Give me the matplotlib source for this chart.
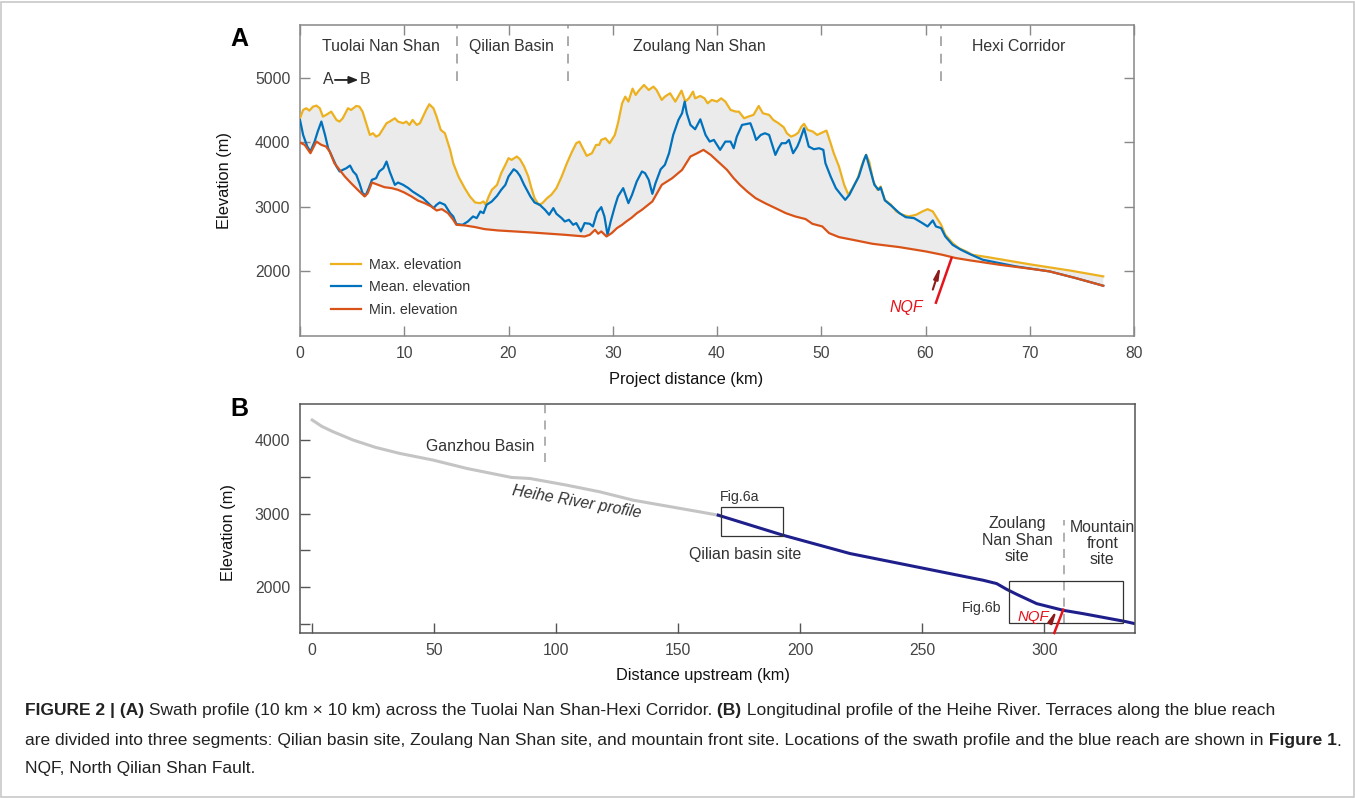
import numpy as np
import matplotlib
matplotlib.use("Agg")
import matplotlib.pyplot as plt
from matplotlib.patches import Rectangle

plt.rcParams['font.family'] = ['Liberation Sans', 'DejaVu Sans']

# ---- panel A : swath profile (km, m) ----
max_km = [0.0, 0.3, 0.6, 0.9, 1.25, 1.57, 1.9, 2.2, 2.5, 3.0, 3.5, 3.8, 4.1, 4.6, 4.9, 5.4, 5.7, 6.0,
          6.4, 6.7, 7.0, 7.3, 7.6, 8.0, 8.3, 8.6, 9.1, 9.4, 9.9, 10.2, 10.5, 10.8, 11.2, 11.5, 11.8,
          12.1, 12.4, 12.8, 13.1, 13.5, 13.9, 14.4, 14.7, 15.2, 15.8, 16.3, 16.8, 17.3, 17.6, 17.8,
          18.1, 18.4, 18.9, 19.3, 19.7, 20.0, 20.3, 20.8, 21.1, 21.5, 21.9, 22.2, 22.5, 22.9, 23.25,
          23.7, 24.1, 24.6, 25.1, 25.6, 26.1, 26.5, 26.8, 27.2, 27.5, 28.0, 28.4, 28.7, 28.9, 29.3,
          29.7, 30.2, 30.5, 30.9, 31.2, 31.5, 31.9, 32.2, 32.5, 33.0, 33.45, 33.9, 34.2, 34.7, 35.0,
          35.5, 36.0, 36.6, 36.96, 37.3, 37.7, 37.9, 38.4, 38.8, 39.1, 39.5, 40.0, 40.4, 40.8, 41.3,
          41.8, 42.1, 42.6, 43.0, 43.5, 44.0, 44.4, 45.0, 45.4, 45.9, 46.4, 46.7, 47.1, 47.5, 47.8,
          48.1, 48.35, 48.7, 49.2, 49.6, 50.1, 50.5, 50.9, 51.2, 51.7, 52.2, 52.6, 53.0, 53.5, 53.9,
          54.3, 54.6, 55.0, 55.4, 55.7, 56.1, 56.7, 57.2, 57.8, 58.4, 59.1, 59.7, 60.2, 60.7, 61.0,
          61.5, 61.9, 62.6, 63.2, 63.9, 64.5, 66.0, 70.0, 74.0, 77.05]
max_elev = [4371, 4500, 4526, 4490, 4551, 4567, 4526, 4397, 4423, 4474, 4345, 4320, 4371, 4526, 4500,
            4562, 4551, 4474, 4268, 4113, 4139, 4087, 4113, 4216, 4294, 4320, 4371, 4320, 4294, 4320,
            4268, 4345, 4268, 4294, 4397, 4500, 4588, 4526, 4397, 4191, 4139, 3882, 3675, 3469, 3289,
            3160, 3067, 3057, 3083, 3031, 3160, 3263, 3340, 3521, 3650, 3753, 3727, 3779, 3737, 3624,
            3469, 3289, 3134, 3031, 3057, 3134, 3186, 3289, 3469, 3675, 3856, 3985, 4010, 3882, 3789,
            3830, 3959, 3959, 4036, 4062, 3985, 4113, 4294, 4603, 4706, 4629, 4830, 4732, 4799, 4886,
            4809, 4861, 4809, 4655, 4706, 4758, 4629, 4799, 4629, 4680, 4784, 4680, 4716, 4680, 4603,
            4655, 4629, 4680, 4629, 4500, 4474, 4474, 4371, 4397, 4423, 4562, 4449, 4423, 4345, 4294,
            4232, 4139, 4087, 4113, 4150, 4242, 4284, 4191, 4165, 4113, 4150, 4180, 3985, 3830, 3624,
            3340, 3186, 3289, 3443, 3650, 3804, 3701, 3392, 3263, 3314, 3108, 3031, 2928, 2877, 2851,
            2877, 2928, 2964, 2928, 2851, 2722, 2567, 2438, 2361, 2310, 2257, 2220, 2110, 2010, 1923]

mean_km = [0.0, 0.3, 0.7, 1.0, 1.4, 1.7, 2.05, 2.4, 2.7, 3.0, 3.5, 3.8, 4.1, 4.45, 4.8, 5.1, 5.4, 5.7,
           6.0, 6.3, 6.6, 6.9, 7.3, 7.6, 8.0, 8.3, 8.6, 9.1, 9.4, 9.9, 10.4, 10.8, 11.3, 11.8, 12.3,
           12.8, 13.1, 13.4, 13.9, 14.4, 14.7, 15.0, 15.6, 16.1, 16.6, 16.95, 17.3, 17.6, 17.9, 18.4,
           18.9, 19.3, 19.7, 20.0, 20.5, 20.8, 21.1, 21.5, 22.1, 22.5, 23.0, 23.5, 23.9, 24.3, 24.6,
           25.1, 25.4, 25.8, 26.2, 26.5, 26.95, 27.3, 27.8, 28.1, 28.5, 28.9, 29.2, 29.5, 29.8, 30.2,
           30.5, 31.0, 31.5, 31.85, 32.3, 32.8, 33.1, 33.45, 33.8, 34.1, 34.6, 35.0, 35.4, 35.8, 36.3,
           36.65, 36.9, 37.1, 37.45, 37.9, 38.4, 38.9, 39.3, 39.7, 40.3, 40.8, 41.3, 41.6, 41.9, 42.4,
           42.9, 43.2, 43.5, 43.75, 44.2, 44.6, 45.0, 45.3, 45.6, 45.9, 46.2, 46.6, 46.9, 47.3, 47.7,
           47.9, 48.35, 48.8, 49.3, 49.8, 50.2, 50.4, 50.9, 51.4, 51.9, 52.3, 52.7, 53.1, 53.6, 54.1,
           54.3, 54.7, 55.1, 55.5, 55.7, 56.1, 56.7, 57.5, 58.1, 58.9, 59.7, 60.2, 60.7, 61.0, 61.5,
           61.9, 62.6, 63.4, 64.3, 65.5, 68.7, 71.9, 74.4, 77.05]
mean_elev = [4345, 4113, 3933, 3856, 4010, 4165, 4320, 4113, 3907, 3804, 3624, 3547, 3572, 3598, 3639,
             3547, 3495, 3366, 3212, 3176, 3289, 3418, 3443, 3547, 3598, 3701, 3547, 3340, 3376, 3340,
             3289, 3237, 3186, 3134, 3057, 2980, 3031, 3067, 3031, 2902, 2851, 2732, 2722, 2773, 2851,
             2825, 2928, 2902, 3031, 3083, 3170, 3263, 3340, 3469, 3582, 3547, 3479, 3340, 3160, 3067,
             3031, 2954, 2877, 2980, 2892, 2825, 2773, 2799, 2722, 2748, 2619, 2748, 2737, 2696, 2912,
             2995, 2851, 2567, 2773, 3005, 3160, 3289, 3057, 3186, 3392, 3547, 3521, 3418, 3201, 3366,
             3582, 3650, 3830, 4113, 4345, 4449, 4629, 4449, 4268, 4201, 4355, 4113, 4010, 4036, 3882,
             4010, 4010, 3907, 4087, 4268, 4284, 4294, 4165, 4036, 4113, 4139, 4113, 3959, 3804, 3907,
             3985, 3985, 4036, 3830, 3933, 4010, 4216, 3933, 3892, 3907, 3882, 3675, 3469, 3289, 3186,
             3108, 3186, 3314, 3469, 3727, 3804, 3572, 3340, 3263, 3300, 3100, 3020, 2902, 2840, 2825,
             2748, 2696, 2789, 2696, 2670, 2541, 2412, 2335, 2265, 2180, 2077, 2000, 1897, 1778]

min_km = [0.0, 0.45, 1.0, 1.57, 2.05, 2.5, 2.85, 3.3, 3.8, 4.3, 4.9, 5.6, 6.2, 6.5, 6.9, 7.5, 8.1, 8.8,
          9.4, 10.0, 10.7, 11.3, 11.95, 12.6, 13.1, 13.6, 14.2, 14.7, 15.0, 15.8, 16.8, 17.7, 19.0,
          22.2, 25.4, 27.3, 27.8, 28.3, 28.6, 28.9, 29.4, 29.9, 30.4, 30.9, 31.3, 31.8, 32.3, 32.8,
          33.8, 34.7, 35.7, 36.65, 37.45, 38.1, 38.7, 39.4, 40.2, 40.96, 41.6, 42.2, 42.9, 43.7, 44.6,
          45.6, 46.6, 47.5, 48.5, 49.15, 50.1, 50.75, 51.7, 53.0, 54.9, 57.5, 60.0, 61.6, 62.9, 64.3,
          67.1, 70.3, 71.9, 74.4, 77.05]
min_elev = [3995, 3959, 3830, 4010, 3959, 3933, 3856, 3675, 3572, 3469, 3366, 3253, 3160, 3212, 3376,
            3340, 3304, 3289, 3263, 3222, 3160, 3098, 3057, 3005, 2943, 2964, 2902, 2799, 2722, 2712,
            2686, 2655, 2634, 2603, 2567, 2541, 2567, 2644, 2583, 2619, 2541, 2593, 2670, 2722, 2773,
            2830, 2900, 2954, 3083, 3340, 3443, 3572, 3779, 3830, 3882, 3804, 3685, 3572, 3443, 3340,
            3237, 3134, 3057, 2980, 2902, 2851, 2810, 2737, 2696, 2593, 2531, 2490, 2428, 2376, 2310,
            2258, 2207, 2170, 2103, 2036, 2000, 1897, 1778]

region_names = ["Tuolai Nan Shan", "Qilian Basin", "Zoulang Nan Shan", "Hexi Corridor"]
region_centers = [7.8, 20.3, 38.3, 68.9]
region_bounds = [15.05, 25.7, 61.5]

# ---- panel B : Heihe River longitudinal profile ----
river_km = [0, 4, 8.6, 16.8, 26, 35.9, 49.6, 63.3, 81.7, 89.2, 104.3, 117.9, 131.6, 158.9, 166.4, 193,
            220.4, 247.7, 275, 280.5, 284.6, 288.7, 296.9, 307.8, 316, 332.4, 337.2]
river_elev = [4273, 4185, 4113, 4000, 3900, 3818, 3727, 3614, 3491, 3477, 3386, 3295, 3181, 3022, 2977,
              2704, 2455, 2273, 2091, 2046, 1968, 1900, 1773, 1682, 1636, 1535, 1500]
reach_start = 166.4

# boxes: (x0, y0, x1, y1) in km / m
box_6a = (167.6, 2690, 192.9, 3090)
box_6b = (285.5, 1510, 332.4, 2082)

C_MAX = '#EDB120'
C_MEAN = '#0072BD'
C_MIN = '#D95319'
TXT = '#333333'
FS = 11.4   # general annotation size

fig = plt.figure(figsize=(13.55, 7.98), dpi=100)
W, H = 1355, 798


def px_axes(left, top, right, bottom):
    return fig.add_axes([left / W, 1 - bottom / H, (right - left) / W, (bottom - top) / H])


def harpoon(axis, start, end, color):
    axis.annotate('', xy=end, xytext=start,
                  arrowprops=dict(arrowstyle='-|>,head_length=0.7,head_width=0.13', color=color,
                                  lw=1.5, shrinkA=0, shrinkB=0))


# ================= panel A =================
ax = px_axes(300, 25, 1134, 336)
ax.fill(np.r_[max_km, min_km[::-1]], np.r_[max_elev, min_elev[::-1]],
        color='#ebebeb', ec='none', zorder=1)
ax.plot(max_km, max_elev, color=C_MAX, lw=1.6, label='Max. elevation', zorder=3)
ax.plot(mean_km, mean_elev, color=C_MEAN, lw=1.6, label='Mean. elevation', zorder=4)
ax.plot(min_km, min_elev, color=C_MIN, lw=1.6, label='Min. elevation', zorder=4.5)

ax.set_xlim(0, 80)
ax.set_ylim(1000, 5815)
ax.set_xticks(range(0, 81, 10))
ax.set_yticks([2000, 3000, 4000, 5000])
ax.tick_params(direction='in', length=7, width=1, top=True, right=True, color='#888888',
               labelcolor='#444444', labelsize=11.3, pad=7)
for s in ax.spines.values():
    s.set_color('#888888')
    s.set_linewidth(1.1)
ax.set_xlabel('Project distance (km)', fontsize=11.8, color='#111111')
ax.set_ylabel('Elevation (m)', fontsize=11.8, color='#111111')
ax.xaxis.set_label_coords(0.463, -0.115)
ax.yaxis.set_label_coords(-0.081, 0.5)

for xb in region_bounds:
    ax.plot([xb, xb], [4950, 5815], color='#aaaaaa', lw=1.4, ls=(0, (5, 4)), zorder=2)
for name, xc in zip(region_names, region_centers):
    ax.text(xc, 5480, name, ha='center', va='center', fontsize=FS, color=TXT)

# A -> B
ax.text(2.7, 4964, 'A', ha='center', va='center', fontsize=FS, color=TXT)
ax.annotate('', xy=(5.6, 4964), xytext=(3.35, 4964),
            arrowprops=dict(arrowstyle='-|>,head_length=0.55,head_width=0.22', color='#222222',
                            lw=1.3, shrinkA=0, shrinkB=0))
ax.text(6.25, 4964, 'B', ha='center', va='center', fontsize=FS, color=TXT)

leg = ax.legend(loc='upper left', bbox_to_anchor=(0.028, 0.275), frameon=False, fontsize=10.3,
                handlelength=2.1, labelspacing=0.62, handletextpad=0.6, borderpad=0)
for t in leg.get_texts():
    t.set_color(TXT)

# North Qilian Shan Fault
ax.plot([62.5, 61.0], [2207, 1516], color='#e5141c', lw=1.8, zorder=5)
harpoon(ax, (60.7, 1719), (61.45, 2090), '#8e1b1b')
ax.text(58.2, 1438, 'NQF', ha='center', va='center', fontsize=FS, color='#e5141c', style='italic')

# ================= panel B =================
bx = px_axes(300, 404, 1135, 633)
rk = np.array(river_km)
re = np.array(river_elev)
up = rk <= reach_start
down = rk >= reach_start
bx.plot(rk[up], re[up], color='#c4c4c4', lw=2.2)
bx.plot(rk[down], re[down], color='#1f1f8c', lw=2.2)

bx.set_xlim(-5, 337.2)
bx.set_ylim(1373, 4491)
bx.set_xticks(range(0, 301, 50))
bx.set_yticks([1500, 2000, 2500, 3000, 3500, 4000])
bx.set_yticklabels(['', '2000', '', '3000', '', '4000'])
bx.tick_params(direction='in', length=7, width=1, color='#555555', labelcolor='#444444',
               labelsize=11.3, pad=7)
for s in bx.spines.values():
    s.set_color('#555555')
    s.set_linewidth(1.1)
bx.set_xlabel('Distance upstream (km)', fontsize=11.8, color='#111111')
bx.set_ylabel('Elevation (m)', fontsize=11.8, color='#111111')
bx.xaxis.set_label_coords(0.483, -0.155)
bx.yaxis.set_label_coords(-0.077, 0.44)

for (x0, y0, x1, y1) in (box_6a, box_6b):
    bx.add_patch(Rectangle((x0, y0), x1 - x0, y1 - y0, fill=False, ec='#333333', lw=0.9, zorder=3))
bx.text(175.2, 3227, 'Fig.6a', ha='center', va='center', fontsize=10.2, color=TXT)
bx.text(274.3, 1718, 'Fig.6b', ha='center', va='center', fontsize=10.2, color=TXT)

bx.plot([95.4, 95.4], [3704, 4477], color='#aaaaaa', lw=1.3, ls=(0, (5, 4)))
bx.plot([308, 308], [1510, 2910], color='#aaaaaa', lw=1.3, ls=(0, (5, 4)))
bx.text(68.7, 3909, 'Ganzhou Basin', ha='center', va='center', fontsize=FS, color=TXT)
bx.text(108.4, 3159, 'Heihe River profile', ha='center', va='center', fontsize=FS, color=TXT,
        style='italic', rotation=-10, rotation_mode='anchor')
bx.text(177.3, 2442, 'Qilian basin site', ha='center', va='center', fontsize=FS, color=TXT)
bx.text(289, 2637, 'Zoulang\nNan Shan\nsite', ha='center', va='center', fontsize=FS,
        color=TXT, linespacing=1.1)
bx.text(323.8, 2592, 'Mountain\nfront\nsite', ha='center', va='center', fontsize=FS,
        color=TXT, linespacing=1.1, clip_on=True)

bx.plot([307.8, 304.1], [1691, 1373], color='#e5141c', lw=1.8, zorder=5, clip_on=False)
harpoon(bx, (303.2, 1560), (305.2, 1690), '#8e1b1b')
bx.text(295.5, 1587, 'NQF', ha='center', va='center', fontsize=10.8, color='#e5141c', style='italic')

# panel letters
fig.text(239 / W, 1 - 38.7 / H, 'A', ha='center', va='center', fontsize=18, fontweight='bold')
fig.text(239 / W, 1 - 408.7 / H, 'B', ha='center', va='center', fontsize=18, fontweight='bold')

# ================= caption =================
cap_lines = [
    [("FIGURE 2 | (A)", True), (" Swath profile (10 km \u00d7 10 km) across the Tuolai Nan Shan-Hexi Corridor.", False),
     (" (B)", True), (" Longitudinal profile of the Heihe River. Terraces along the blue reach", False)],
    [("are divided into three segments: Qilian basin site, Zoulang Nan Shan site, and mountain front site. "
      "Locations of the swath profile and the blue reach are shown in", False), (" Figure 1", True), (".", False)],
    [("NQF, North Qilian Shan Fault.", False)],
]
cap_y = [711, 741, 768]

renderer = fig.canvas.get_renderer()


def line_width(parts, size):
    total = 0
    for txt, bold in parts:
        t = fig.text(0, 0, txt, fontsize=size, fontweight='bold' if bold else 'normal')
        total += t.get_window_extent(renderer=renderer).width
        t.remove()
    return total


cap_size = 11 * 1310 / line_width(cap_lines[1], 11)

for parts, yp in zip(cap_lines, cap_y):
    x = 25
    for txt, bold in parts:
        t = fig.text(x / W, 1 - yp / H, txt, fontsize=cap_size, va='center', color='#222222',
                     fontweight='bold' if bold else 'normal')
        x += t.get_window_extent(renderer=renderer).width

fig.patches.append(Rectangle((0.001, 0.001), 0.998, 0.997, transform=fig.transFigure, fill=False,
                             ec='#c8c8c8', lw=1.2))

fig.savefig('out.png', dpi=100)
